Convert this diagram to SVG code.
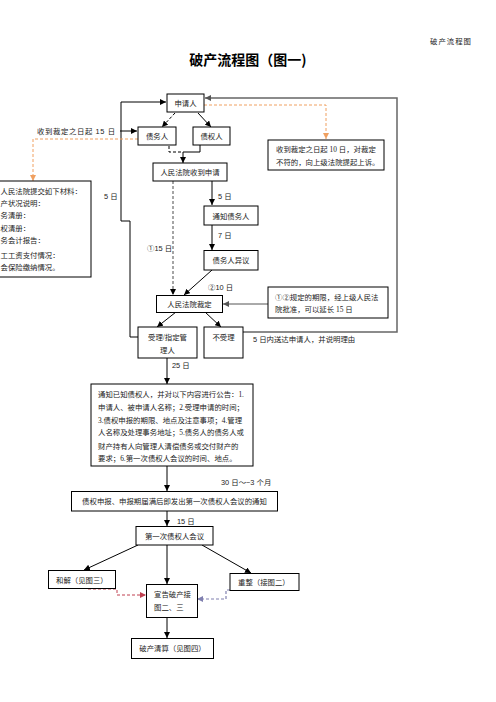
<svg xmlns="http://www.w3.org/2000/svg" width="496" height="702" viewBox="0 0 496 702">
<style>
.b{fill:#fff;stroke:#000;stroke-width:1}
.t{font-family:"Liberation Serif","Noto Sans CJK SC",serif;font-size:7.4px;fill:#222}
.l{font-family:"Liberation Sans","Noto Sans CJK SC",sans-serif;font-size:7.4px;fill:#222}
.c{fill:none;stroke:#000;stroke-width:1}
.d{stroke-dasharray:3,2}
.o{fill:none;stroke:#f0a060;stroke-width:1;stroke-dasharray:3,2}
</style>
<defs>
<marker id="a" markerWidth="6" markerHeight="6" refX="6" refY="3" orient="auto" markerUnits="userSpaceOnUse"><path d="M0,0L6,3L0,6z" fill="#000"/></marker>
<marker id="ao" markerWidth="6" markerHeight="6" refX="6" refY="3" orient="auto" markerUnits="userSpaceOnUse"><path d="M0,0L6,3L0,6z" fill="#f0a060"/></marker>
<marker id="ag" markerWidth="6" markerHeight="6" refX="6" refY="3" orient="auto" markerUnits="userSpaceOnUse"><path d="M0,0L6,3L0,6z" fill="#555"/></marker>
<marker id="ar" markerWidth="6" markerHeight="6" refX="6" refY="3" orient="auto" markerUnits="userSpaceOnUse"><path d="M0,0L6,3L0,6z" fill="#c04050"/></marker>
<marker id="ap" markerWidth="6" markerHeight="6" refX="6" refY="3" orient="auto" markerUnits="userSpaceOnUse"><path d="M0,0L6,3L0,6z" fill="#8080b0"/></marker>
</defs>
<text x="472" y="44" text-anchor="end" class="t" style="letter-spacing:1px">破产流程图</text>
<text x="248" y="65" text-anchor="middle" style="font-family:'Noto Sans CJK SC',sans-serif;font-size:14px;font-weight:bold;fill:#000">破产流程图（图一)</text>

<g id="connectors">
<path class="c" d="M138,337H130V221H121V102H166" marker-end="url(#a)"/>
<path class="c d" d="M175,113L162,127" marker-end="url(#a)"/>
<path class="c" d="M198,113L211,127" marker-end="url(#a)"/>
<path class="c" d="M120,131H137" marker-end="url(#a)"/>
<path class="c d" d="M169,146V152H183"/>
<path class="c" d="M200,145V152H183V163" marker-end="url(#a)"/>
<path class="c" d="M212,181V205" marker-end="url(#a)"/>
<path class="c" d="M212,225V250" marker-end="url(#a)"/>
<path class="c" d="M212,270L184,295" marker-end="url(#a)"/>
<path d="M173,181V295" fill="none" stroke="#888" stroke-width="1.5" stroke-dasharray="3,2" marker-end="url(#a)"/>
<path d="M268,304H223" fill="none" stroke="#555" stroke-width="1" marker-end="url(#ag)"/>
<path class="c" d="M176,312L157,327" marker-end="url(#a)"/>
<path class="c" d="M205,312L221,327" marker-end="url(#a)"/>
<path d="M243,332H397V98H205" fill="none" stroke="#666" stroke-width="1.5" marker-end="url(#ag)"/>
<path class="o" d="M204,105H326V139" marker-end="url(#ao)"/>
<path class="o" d="M138,139H33V181" marker-end="url(#ao)"/>
<path class="c" d="M167,358V384" marker-end="url(#a)"/>
<path class="c" d="M167,466V491" marker-end="url(#a)"/>
<path class="c" d="M167,511V526" marker-end="url(#a)"/>
<path class="c" d="M138,545L84,570" marker-end="url(#a)"/>
<path class="c" d="M167,545V584" marker-end="url(#a)"/>
<path class="c" d="M202,545L251,573" marker-end="url(#a)"/>
<path d="M88,589H117V595H146" fill="none" stroke="#c04050" stroke-width="1" stroke-dasharray="3,2" marker-end="url(#ar)"/>
<path d="M250,590H226V599H197" fill="none" stroke="#8080b0" stroke-width="1.2" stroke-dasharray="3,2" marker-end="url(#ap)"/>
<path class="c" d="M167,617V638" marker-end="url(#a)"/>
<text x="37" y="134" class="l" style="letter-spacing:0.6px">收到裁定之日起 15 日</text>
<text x="104" y="199" class="l">5 日</text>
<text x="218" y="199" class="l">5 日</text>
<text x="218" y="238" class="l">7 日</text>
<text x="147" y="251" class="l">①15 日</text>
<text x="208" y="290" class="l">②10 日</text>
<text x="253" y="342" class="l">5 日内送达申请人，并说明理由</text>
<text x="172" y="368" class="l">25 日</text>
<text x="221" y="485" class="l">30 日～~3 个月</text>
<text x="177" y="524" class="l">15 日</text>
</g>

<g id="n-applicant"><rect class="b" x="167" y="94" width="37" height="18"/><text class="t" x="185.5" y="106" text-anchor="middle">申请人</text></g>
<g id="n-debtor"><rect class="b" x="138" y="127" width="38" height="18"/><text class="t" x="157" y="139" text-anchor="middle">债务人</text></g>
<g id="n-creditor"><rect class="b" x="193" y="127" width="37" height="18"/><text class="t" x="211.5" y="139" text-anchor="middle">债权人</text></g>
<g id="n-appeal"><rect class="b" x="268" y="140" width="116" height="30"/><text class="t" x="276" y="152">收到裁定之日起 10 日，对裁定</text><text class="t" x="276" y="165">不符的，向上级法院提起上诉。</text></g>
<g id="n-materials"><rect class="b" x="-10" y="181" width="101" height="96"/>
<text class="t" x="0.5" y="194">人民法院提交如下材料：</text>
<text class="t" x="0.5" y="206">产状况说明：</text>
<text class="t" x="0.5" y="218">务清册：</text>
<text class="t" x="0.5" y="231">权清册：</text>
<text class="t" x="0.5" y="243">务会计报告：</text>
<text class="t" x="0.5" y="258">工工资支付情况：</text>
<text class="t" x="0.5" y="270">会保险缴纳情况。</text>
</g>
<g id="n-received"><rect class="b" x="153" y="163" width="74" height="18"/><text class="t" x="190" y="175" text-anchor="middle">人民法院收到申请</text></g>
<g id="n-notify"><rect class="b" x="204" y="206" width="54" height="19"/><text class="t" x="231" y="218.5" text-anchor="middle">通知债务人</text></g>
<g id="n-objection"><rect class="b" x="204" y="250.5" width="54" height="19.5"/><text class="t" x="231" y="263" text-anchor="middle">债务人异议</text></g>
<g id="n-extend"><rect class="b" x="268" y="287" width="120" height="31"/><text class="t" x="275" y="299.5">①②规定的期限，经上级人民法</text><text class="t" x="275" y="312">院批准，可以延长 15 日</text></g>
<g id="n-ruling"><rect class="b" x="156.5" y="295.5" width="66" height="17"/><text class="t" x="189.5" y="307" text-anchor="middle">人民法院裁定</text></g>
<g id="n-accept"><rect class="b" x="138" y="327" width="59" height="31"/><text class="t" x="167.5" y="339.5" text-anchor="middle">受理/指定管</text><text class="t" x="167.5" y="353" text-anchor="middle">理人</text></g>
<g id="n-reject"><rect class="b" x="204" y="327" width="39" height="31"/><text class="t" x="223.5" y="339.5" text-anchor="middle">不受理</text></g>
<g id="n-notice"><rect class="b" x="91" y="384" width="162" height="82"/>
<text class="t" x="98" y="397">通知已知债权人，并对以下内容进行公告：1.</text>
<text class="t" x="98" y="410">申请人、被申请人名称；2.受理申请的时间；</text>
<text class="t" x="98" y="423">3.债权申报的期限、地点及注意事项；4.管理</text>
<text class="t" x="98" y="435">人名称及处理事务地址；5.债务人的债务人或</text>
<text class="t" x="98" y="449">财产持有人向管理人清偿债务或交付财产的</text>
<text class="t" x="98" y="461">要求；6.第一次债权人会议的时间、地点。</text>
</g>
<g id="n-claims"><rect class="b" x="71.5" y="491.5" width="206" height="19.5"/><text class="t" x="174.5" y="504" text-anchor="middle">债权申报、申报期届满后即发出第一次债权人会议的通知</text></g>
<g id="n-meeting"><rect class="b" x="136" y="526.5" width="77" height="18.5"/><text class="t" x="174.5" y="538.5" text-anchor="middle">第一次债权人会议</text></g>
<g id="n-settle"><rect class="b" x="48.5" y="570.5" width="67" height="18"/><text class="t" x="56" y="582.5">和解（见图三）</text></g>
<g id="n-reorg"><rect class="b" x="230" y="573.5" width="69" height="17"/><text class="t" x="238" y="585">重整（接图二）</text></g>
<g id="n-declare"><rect class="b" x="146.5" y="584.5" width="51" height="33"/><text class="t" x="154" y="597">宣告破产接</text><text class="t" x="154" y="610">图二、三</text></g>
<g id="n-liquidate"><rect class="b" x="131.5" y="638.5" width="82" height="20"/><text class="t" x="172.5" y="651" text-anchor="middle">破产清算（见图四）</text></g>
</svg>
